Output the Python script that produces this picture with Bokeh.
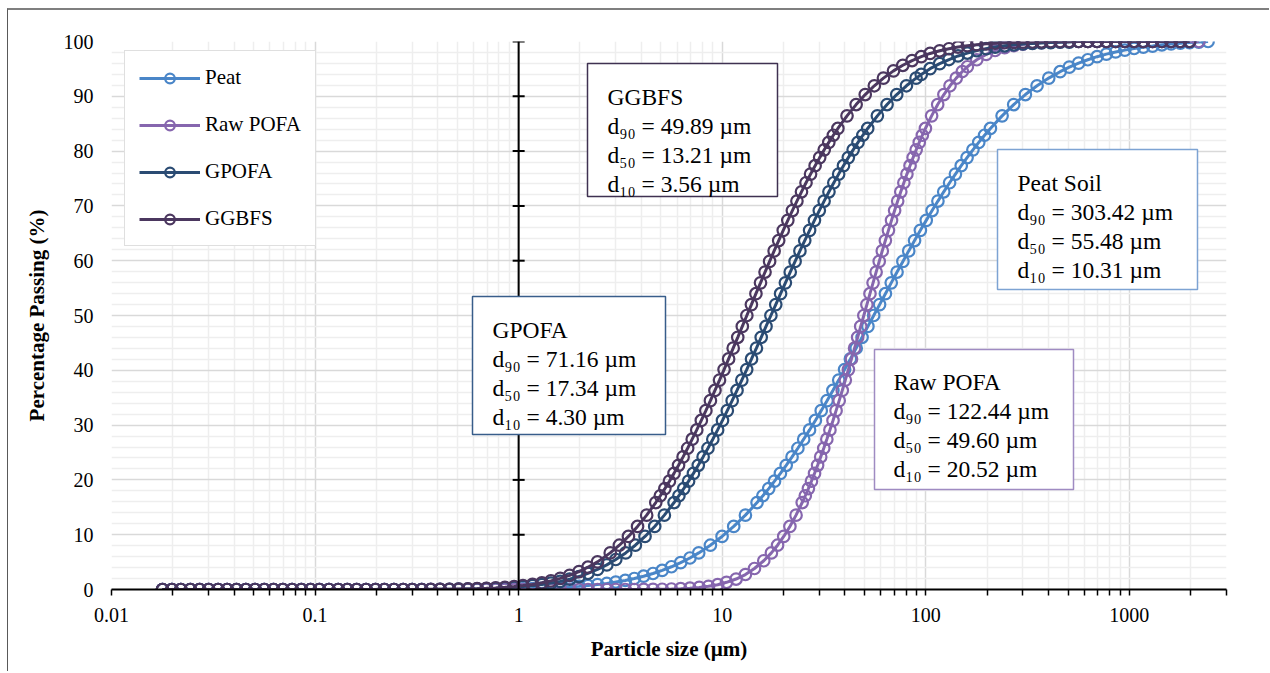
import math
from bokeh.plotting import figure
from bokeh.models import (FixedTicker, Span, BoxAnnotation, Label, Legend, LegendItem,
                          ColumnDataSource, CustomJSTickFormatter)
from bokeh.embed import file_html
from bokeh.resources import INLINE

# ---------------- data ----------------
# common size bins used for the flat tails of every curve (µm)
SIZE_UM = [
    0.0178, 0.0198, 0.0219, 0.0244, 0.0271, 0.0300, 0.0334, 0.0370, 0.0411, 0.0457, 0.0507,
    0.0563, 0.0625, 0.0694, 0.0771, 0.0856, 0.0950, 0.105, 0.117, 0.130, 0.144, 0.160,
    0.178, 0.198, 0.219, 0.244, 0.271, 0.300, 0.334, 0.370, 0.411, 0.457, 0.507,
    0.563, 0.625, 0.694, 0.771, 0.856, 0.950, 1.05, 1.17, 1.30, 1.44, 1.60,
    1.78, 1.98, 2.19, 2.44, 2.71, 3.00, 3.34, 3.70, 4.11, 4.57, 5.07,
    5.63, 6.25, 6.94, 7.71, 8.56, 9.50, 10.5, 11.7, 13.0, 14.4, 16.0,
    17.8, 19.8, 21.9, 24.4, 27.1, 30.0, 33.4, 37.0, 41.1, 45.7, 50.7,
    56.3, 62.5, 69.4, 77.1, 85.6, 95.0, 105, 117, 130, 144, 160,
    178, 198, 219, 244, 271, 300, 334, 370, 411, 457, 507,
    563, 625, 694, 771, 856, 950, 1055, 1171, 1300, 1444, 1603,
    1780, 1976, 2194, 2436,
]

PEAT_X = SIZE_UM[:58] + [
    7.666, 8.748, 9.982, 11.39, 13.00, 14.83, 15.84, 16.92, 18.07, 19.31, 20.62, 22.03, 23.53,
    25.13, 26.85, 28.68, 30.64, 32.73, 34.96, 37.35, 39.90, 42.62, 45.52, 48.64, 51.95, 55.48,
    59.29, 63.33, 67.64, 72.25, 77.18, 82.44, 88.07, 94.06, 100.5, 107.4, 114.7, 122.5, 130.9,
    139.8, 149.3, 159.5, 170.4, 182.0, 194.4, 207.7, 237.0, 270.3, 308.5, 352.0, 401.8,
] + SIZE_UM[97:114]
PEAT_Y = [
    0, 0, 0, 0, 0, 0, 0, 0, 0, 0, 0, 0, 0, 0, 0, 0, 0, 0, 0, 0, 0, 0,
    0, 0, 0, 0, 0, 0, 0, 0, 0, 0, 0, 0.03, 0.03, 0.05, 0.06, 0.08, 0.10, 0.13, 0.17, 0.22, 0.28, 0.36,
    0.46, 0.57, 0.72, 0.89, 1.10, 1.36, 1.65, 2.01, 2.43, 2.92, 3.48, 4.15, 4.90, 5.75,
    6.68, 8.08, 9.68, 11.51, 13.57, 15.87, 17.11, 18.41, 19.77, 21.19, 22.66, 24.20, 25.78,
    27.43, 29.12, 30.85, 32.64, 34.46, 36.32, 38.21, 40.13, 42.07, 44.04, 46.02, 48.01, 50.00,
    51.99, 53.98, 55.96, 57.93, 59.87, 61.79, 63.68, 65.54, 67.36, 69.15, 70.88, 72.57, 74.22,
    75.80, 77.34, 78.81, 80.23, 81.59, 82.89, 84.13, 86.43, 88.49, 90.32, 91.92, 93.32,
    94.49, 95.32, 96.05, 96.67, 97.23, 97.69, 98.09, 98.43, 98.72, 98.96, 99.16, 99.40, 99.55,
    99.70, 99.80, 99.90, 100,
]

RAW_POFA_X = SIZE_UM[:66] + [
    17.44, 18.70, 20.05, 21.50, 23.05, 24.71, 25.59, 26.50, 27.44, 28.41, 29.41, 30.46, 31.53,
    32.65, 33.81, 35.01, 36.25, 37.54, 38.87, 40.24, 41.67, 43.15, 44.68, 46.26, 47.90, 49.60,
    51.35, 53.18, 55.07, 57.02, 59.04, 61.13, 63.30, 65.54, 67.87, 70.28, 72.77, 75.35, 78.02,
    80.78, 83.66, 86.62, 89.69, 92.86, 96.16, 99.56, 106.8, 114.4, 122.7, 131.5, 141.1, 151.2,
] + SIZE_UM[87:113]
RAW_POFA_Y = [
    0, 0, 0, 0, 0, 0, 0, 0, 0, 0, 0, 0, 0, 0, 0, 0, 0, 0, 0, 0, 0, 0,
    0, 0, 0, 0, 0, 0, 0, 0, 0, 0, 0, 0, 0, 0, 0, 0, 0, 0, 0, 0, 0, 0,
    0, 0, 0, 0, 0, 0, 0, 0, 0.02, 0.03, 0.05, 0.09, 0.15, 0.24, 0.38, 0.58, 0.88, 1.31, 1.91, 2.73, 3.83, 5.25,
    6.68, 8.08, 9.68, 11.51, 13.57, 15.87, 17.11, 18.41, 19.77, 21.19, 22.66, 24.20, 25.78,
    27.43, 29.12, 30.85, 32.64, 34.46, 36.32, 38.21, 40.13, 42.07, 44.04, 46.02, 48.01, 50.00,
    51.99, 53.98, 55.96, 57.93, 59.87, 61.79, 63.68, 65.54, 67.36, 69.15, 70.88, 72.57, 74.22,
    75.80, 77.34, 78.81, 80.23, 81.59, 82.89, 84.13, 86.43, 88.49, 90.32, 91.92, 93.32, 94.52,
    95.39, 96.67, 97.64, 98.36, 98.88, 99.26, 99.51, 99.69, 99.80, 99.88, 99.93,
    100, 100, 100, 100, 100, 100, 100, 100, 100, 100, 100, 100, 100, 100, 100,
]

GPOFA_X = SIZE_UM[:50] + [
    3.356, 3.744, 4.176, 4.660, 5.198, 5.801, 6.127, 6.471, 6.836, 7.221, 7.627, 8.056, 8.510,
    8.990, 9.495, 10.03, 10.59, 11.19, 11.82, 12.48, 13.19, 13.93, 14.72, 15.54, 16.41, 17.34,
    18.32, 19.35, 20.43, 21.58, 22.80, 24.08, 25.43, 26.87, 28.38, 29.98, 31.66, 33.44, 35.33,
    37.32, 39.41, 41.63, 43.97, 46.45, 49.06, 51.83, 57.83, 64.52, 71.99, 80.32, 89.61,
] + SIZE_UM[82:112]
GPOFA_Y = [
    0, 0, 0, 0, 0, 0, 0, 0, 0, 0, 0, 0, 0, 0, 0, 0, 0, 0, 0, 0, 0, 0,
    0, 0, 0, 0, 0, 0, 0, 0, 0.03, 0.04, 0.06, 0.09, 0.12, 0.16, 0.22, 0.30, 0.40, 0.53, 0.69, 0.90, 1.16, 1.48,
    1.88, 2.36, 2.95, 3.66, 4.49, 5.47,
    6.68, 8.08, 9.68, 11.51, 13.57, 15.87, 17.11, 18.41, 19.77, 21.19, 22.66, 24.20, 25.78,
    27.43, 29.12, 30.85, 32.64, 34.46, 36.32, 38.21, 40.13, 42.07, 44.04, 46.02, 48.01, 50.00,
    51.99, 53.98, 55.96, 57.93, 59.87, 61.79, 63.68, 65.54, 67.36, 69.15, 70.88, 72.57, 74.22,
    75.80, 77.34, 78.81, 80.23, 81.59, 82.89, 84.13, 86.43, 88.49, 90.32, 91.92, 93.32,
    93.99, 95.04, 95.95, 96.71, 97.36, 97.89, 98.33, 98.69, 98.98, 99.21, 99.40, 99.54, 99.65,
    99.74, 99.81, 99.86, 99.90,
    100, 100, 100, 100, 100, 100, 100, 100, 100, 100, 100, 100, 100,
]

GGBFS_X = SIZE_UM[:48] + [
    2.818, 3.124, 3.462, 3.838, 4.255, 4.716, 4.966, 5.227, 5.504, 5.797, 6.101, 6.424, 6.764,
    7.122, 7.498, 7.894, 8.312, 8.750, 9.211, 9.699, 10.21, 10.75, 11.32, 11.92, 12.55, 13.21,
    13.91, 14.64, 15.42, 16.23, 17.09, 17.99, 18.94, 19.94, 21.00, 22.11, 23.28, 24.51, 25.80,
    27.16, 28.60, 30.11, 31.70, 33.38, 35.14, 37.00, 41.02, 45.48, 50.41, 55.87, 61.93,
] + SIZE_UM[79:112]
GGBFS_Y = [
    0, 0, 0, 0, 0, 0, 0, 0, 0, 0, 0, 0, 0, 0, 0, 0, 0, 0, 0, 0, 0, 0,
    0, 0, 0, 0, 0, 0, 0, 0.03, 0.04, 0.05, 0.08, 0.11, 0.15, 0.21, 0.29, 0.39, 0.53, 0.71, 0.93, 1.22, 1.58, 2.03,
    2.58, 3.26, 4.07, 5.04,
    6.68, 8.08, 9.68, 11.51, 13.57, 15.87, 17.11, 18.41, 19.77, 21.19, 22.66, 24.20, 25.78,
    27.43, 29.12, 30.85, 32.64, 34.46, 36.32, 38.21, 40.13, 42.07, 44.04, 46.02, 48.01, 50.00,
    51.99, 53.98, 55.96, 57.93, 59.87, 61.79, 63.68, 65.54, 67.36, 69.15, 70.88, 72.57, 74.22,
    75.80, 77.34, 78.81, 80.23, 81.59, 82.89, 84.13, 86.43, 88.49, 90.32, 91.92, 93.32,
    94.64, 95.66, 96.52, 97.23, 97.82, 98.30, 98.68, 98.99, 99.23, 99.42, 99.57, 99.68, 99.77,
    99.83, 99.88, 99.91, 99.94,
    100, 100, 100, 100, 100, 100, 100, 100, 100, 100, 100, 100, 100, 100, 100, 100,
]

SERIES_NAMES = ["Peat", "Raw POFA", "GPOFA", "GGBFS"]
SERIES_X = [PEAT_X, RAW_POFA_X, GPOFA_X, GGBFS_X]
SERIES_Y = [PEAT_Y, RAW_POFA_Y, GPOFA_Y, GGBFS_Y]
SERIES_COLORS = ["#4a86c8", "#8666ae", "#2a4b73", "#4b375f"]

X_TICKS = [0.01, 0.1, 1, 10, 100, 1000]
X_MINOR = [0.02, 0.03, 0.04, 0.05, 0.06, 0.07, 0.08, 0.09,
           0.2, 0.3, 0.4, 0.5, 0.6, 0.7, 0.8, 0.9,
           2, 3, 4, 5, 6, 7, 8, 9,
           20, 30, 40, 50, 60, 70, 80, 90,
           200, 300, 400, 500, 600, 700, 800, 900,
           2000, 3000]
Y_TICKS = [0, 10, 20, 30, 40, 50, 60, 70, 80, 90, 100]
Y_MINOR = [2, 4, 6, 8, 12, 14, 16, 18, 22, 24, 26, 28, 32, 34, 36, 38, 42, 44, 46, 48,
           52, 54, 56, 58, 62, 64, 66, 68, 72, 74, 76, 78, 82, 84, 86, 88, 92, 94, 96, 98]

ANNOT_TITLES = ["GGBFS", "GPOFA", "Peat Soil", "Raw POFA"]
ANNOT_D90 = ["49.89", "71.16", "303.42", "122.44"]
ANNOT_D50 = ["13.21", "17.34", "55.48", "49.60"]
ANNOT_D10 = ["3.56", "4.30", "10.31", "20.52"]
ANNOT_BORDER = ["#3f3151", "#385d8a", "#7da3d3", "#9f8bc2"]

# ---------------- layout (page pixels) ----------------
FONT = "Liberation Serif"
W, H = 1262, 663
FL, FR, FT, FB = 111, 1226, 41, 589      # plot frame in page px
CX, CY = 8, 10                           # canvas origin in page px
X0, X1 = 0.01, 3000
Y0, Y1 = 0, 100

# annotation boxes: (left, top, right, bottom, text-left, first baseline)
BOX_GEOM = [
    (587, 63, 777, 196, 607, 96),
    (472, 296, 665, 434, 492, 329),
    (997, 149, 1197, 289, 1017, 182),
    (874, 349, 1073, 489, 893, 381),
]
LINE_PITCH = 29.3


def dx(px):
    a, b = math.log10(X0), math.log10(X1)
    return 10 ** (a + (px - FL) / (FR - FL) * (b - a))


def dy(py):
    return Y0 + (FB - py) / (FB - FT) * (Y1 - Y0)


p = figure(width=W, height=H, x_axis_type="log", x_range=(X0, X1), y_range=(Y0, Y1),
           output_backend="svg", toolbar_location=None,
           min_border_left=FL - CX, min_border_right=CX + W - FR,
           min_border_top=FT - CY, min_border_bottom=CY + H - FB)
p.margin = (8, 0, 0, 7)
p.styles = {"border-top": "2px solid #7f7f7f", "border-left": "1px solid #595959"}
p.outline_line_color = None
p.background_fill_color = "white"
p.border_fill_color = "white"

# x axis
xa = p.xaxis[0]
xa.ticker = FixedTicker(ticks=X_TICKS, minor_ticks=X_MINOR)
xa.formatter = CustomJSTickFormatter(code="return tick.toString();")
xa.axis_line_color = "black"
xa.axis_line_width = 2
xa.major_tick_in = 0
xa.major_tick_out = 6
xa.minor_tick_in = 0
xa.minor_tick_out = 6
xa.major_tick_line_color = "black"
xa.minor_tick_line_color = "black"
xa.major_tick_line_width = 1.5
xa.minor_tick_line_width = 1.5
xa.major_label_standoff = 12
xa.major_label_text_font = FONT
xa.major_label_text_font_size = "20px"
xa.major_label_text_color = "black"
xa.axis_label = "Particle size (µm)"
xa.axis_label_text_font = FONT
xa.axis_label_text_font_size = "21px"
xa.axis_label_text_font_style = "bold"
xa.axis_label_text_color = "black"
xa.axis_label_standoff = 12

# y axis
ya = p.yaxis[0]
ya.ticker = FixedTicker(ticks=Y_TICKS, minor_ticks=Y_MINOR)
ya.axis_line_color = None
ya.major_tick_in = 0
ya.major_tick_out = 0
ya.minor_tick_in = 0
ya.minor_tick_out = 0
ya.major_tick_line_color = None
ya.minor_tick_line_color = None
ya.major_label_standoff = 18
ya.major_label_text_font = FONT
ya.major_label_text_font_size = "20px"
ya.major_label_text_color = "black"
ya.axis_label = "Percentage Passing (%)"
ya.axis_label_text_font = FONT
ya.axis_label_text_font_size = "21px"
ya.axis_label_text_font_style = "bold"
ya.axis_label_text_color = "black"
ya.axis_label_standoff = 12

# grids
for g in (p.xgrid[0], p.ygrid[0]):
    g.grid_line_color = "#d9d9d9"
    g.grid_line_width = 1.5
    g.minor_grid_line_color = "#eeeeee"
    g.minor_grid_line_width = 1.5

# vertical axis crossing at x = 1 with tick marks
AXIS_CROSS = 1
p.add_layout(Span(location=AXIS_CROSS, dimension="height", line_color="black", line_width=2))
p.scatter(x=[AXIS_CROSS] * len(Y_TICKS), y=Y_TICKS, marker="dash", size=12,
          line_color="black", line_width=2)

# series
items = []
for name, xs, ys, col in zip(SERIES_NAMES, SERIES_X, SERIES_Y, SERIES_COLORS):
    src = ColumnDataSource(dict(x=xs, y=ys))
    r_line = p.line("x", "y", source=src, line_color=col, line_width=3)
    r_pts = p.scatter("x", "y", source=src, marker="circle", size=11.5, fill_color=None,
                      line_color=col, line_width=2.2)
    items.append(LegendItem(label=name, renderers=[r_line, r_pts]))

legend = Legend(items=items, location=(124 - FL, FB - 246),
                border_line_color="#bfbfbf", border_line_width=1.5,
                background_fill_color="white", background_fill_alpha=1,
                padding=14, spacing=22, margin=0,
                glyph_width=61, glyph_height=24, label_height=24, label_standoff=5,
                label_text_font=FONT, label_text_font_size="21px", label_text_color="black")
p.add_layout(legend)

# annotation boxes
for title, d90, d50, d10, bcol, geom in zip(ANNOT_TITLES, ANNOT_D90, ANNOT_D50, ANNOT_D10,
                                             ANNOT_BORDER, BOX_GEOM):
    l, t, r, b, tx, by = geom
    p.add_layout(BoxAnnotation(left=dx(l), right=dx(r), top=dy(t), bottom=dy(b),
                               fill_color="white", fill_alpha=1,
                               line_color=bcol, line_width=1.5, line_alpha=1))
    lines = [title, "d₉₀ = %s µm" % d90, "d₅₀ = %s µm" % d50, "d₁₀ = %s µm" % d10]
    for i, txt in enumerate(lines):
        p.add_layout(Label(x=dx(tx), y=dy(by + i * LINE_PITCH), text=txt,
                           text_font=FONT, text_font_size="23.5px", text_color="black",
                           text_align="left", text_baseline="alphabetic"))

open("out.html", "w").write(file_html(p, INLINE))
